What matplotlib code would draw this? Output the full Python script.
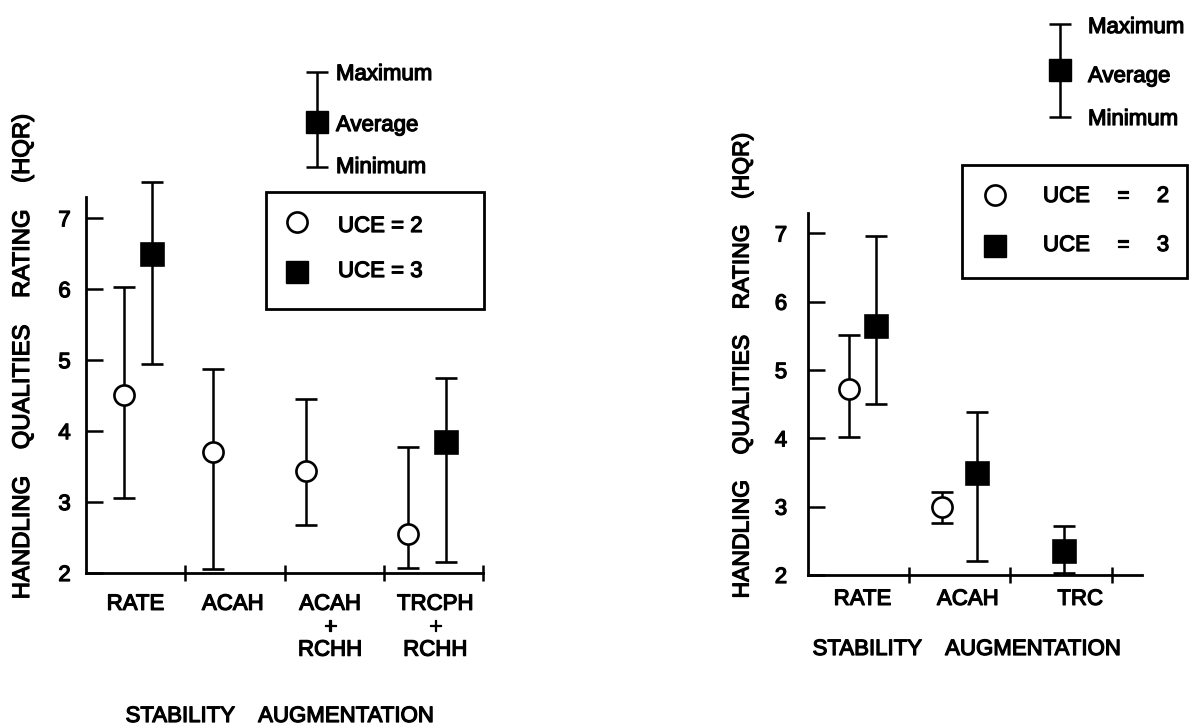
import matplotlib
matplotlib.use('Agg')
import matplotlib.pyplot as plt
import matplotlib.patheffects as pe
from matplotlib.patches import Rectangle

plt.rcParams['font.family'] = ['Liberation Sans', 'DejaVu Sans']
plt.rcParams['font.weight'] = 'normal'
STROKE = [pe.withStroke(linewidth=0.9, foreground='black')]

# ---------------- data ----------------
y_ticks = [2, 3, 4, 5, 6, 7]

left_categories = ["RATE", "ACAH", "ACAH\n+\nRCHH", "TRCPH\n+\nRCHH"]
left_uce2_avg = [4.51, 3.70, 3.44, 2.55]
left_uce2_max = [6.03, 4.87, 4.45, 3.77]
left_uce2_min = [3.06, 2.06, 2.68, 2.07]
left_uce3_avg = [6.49, 3.85]
left_uce3_max = [7.51, 4.75]
left_uce3_min = [4.94, 2.15]

right_categories = ["RATE", "ACAH", "TRC"]
right_uce2_avg = [4.73, 2.99]
right_uce2_max = [5.51, 3.21]
right_uce2_min = [4.02, 2.76]
right_uce3_avg = [5.65, 3.49, 2.35]
right_uce3_max = [6.96, 4.38, 2.72]
right_uce3_min = [4.51, 2.20, 2.03]

# ---------------- layout (positions) ----------------
left_uce2_pos = [0.38, 1.28, 2.22, 3.24]
left_uce3_pos = [0.665, 3.63]
left_label_pos = [0.50, 1.48, 2.46, 3.52]
left_bounds = [1, 2, 3, 4]

right_uce2_pos = [0.405, 1.32]
right_uce3_pos = [0.67, 1.67, 2.53]
right_label_pos = [0.54, 1.58, 2.69]
right_bounds = [1, 2, 3]

W, H = 1198, 725
FS = 16
LW = 1.8
fig = plt.figure(figsize=(W / 100, H / 100), dpi=100)


def rect(left, top, right, bottom):
    return [left / W, 1 - bottom / H, (right - left) / W, (bottom - top) / H]


def setup(ax, xmax, bounds, label_pos, labels, ypad, xpad):
    ax.set_xlim(0, xmax)
    ax.set_ylim(2, 7.3)
    ax.patch.set_alpha(0)
    ax.spines['top'].set_visible(False)
    ax.spines['right'].set_visible(False)
    for s in ('left', 'bottom'):
        ax.spines[s].set_linewidth(2.0)
    ax.set_yticks(y_ticks)
    ax.set_yticklabels([str(t) for t in y_ticks])
    ax.tick_params(axis='y', direction='in', length=12, width=LW,
                   pad=ypad, labelsize=FS)
    ax.set_xticks(bounds)
    ax.set_xticklabels([''] * len(bounds))
    ax.tick_params(axis='x', which='major', direction='inout', length=12,
                   width=LW)
    ax.set_xticks(label_pos, minor=True)
    ax.set_xticklabels(labels, minor=True)
    ax.tick_params(axis='x', which='minor', length=0, pad=xpad, labelsize=FS)
    for lab in ax.get_xticklabels(minor=True) + ax.get_yticklabels():
        lab.set_linespacing(1.12)
        lab.set_path_effects(STROKE)


def draw(ax, pos, avg, vmax, vmin, marker, face, ms):
    lo = [a - m for a, m in zip(avg, vmin)]
    hi = [m - a for a, m in zip(avg, vmax)]
    ax.errorbar(pos, avg, yerr=[lo, hi], fmt=marker, mfc=face, mec='black',
                mew=1.9, ms=ms, color='black', ecolor='black', elinewidth=LW,
                capsize=8, capthick=LW, clip_on=False, zorder=3)


# ---------------- left panel ----------------
axL = fig.add_axes(rect(86, 197, 483, 573))
setup(axL, 4.0, left_bounds, left_label_pos, left_categories, 11, 15)
draw(axL, left_uce2_pos, left_uce2_avg, left_uce2_max, left_uce2_min,
     'o', 'white', 14.5)
draw(axL, left_uce3_pos, left_uce3_avg, left_uce3_max, left_uce3_min,
     's', 'black', 15.5)

# ---------------- right panel ----------------
axR = fig.add_axes(rect(808, 213, 1142, 575))
setup(axR, 3.3, right_bounds, right_label_pos, right_categories, 15, 10)
draw(axR, right_uce2_pos, right_uce2_avg, right_uce2_max, right_uce2_min,
     'o', 'white', 14.5)
draw(axR, right_uce3_pos, right_uce3_avg, right_uce3_max, right_uce3_min,
     's', 'black', 16)

# ---------------- overlay (labels, keys, legend boxes) ----------------
ov = fig.add_axes([0, 0, 1, 1])
ov.set_xlim(0, W)
ov.set_ylim(H, 0)
ov.axis('off')
ov.patch.set_alpha(0)


def txt(x, y, s, **kw):
    kw.setdefault('fontsize', FS)
    return ov.text(x, y, s, path_effects=STROKE, **kw)


ylab = "HANDLING    QUALITIES    RATING    (HQR)"
txt(23, 357, ylab, rotation=90, ha='center', va='center', fontsize=17.2)
txt(742, 366, ylab, rotation=90, ha='center', va='center', fontsize=16.5)

txt(280, 722, "STABILITY    AUGMENTATION", ha='center', va='baseline')
txt(967, 655, "STABILITY    AUGMENTATION", ha='center', va='baseline')


def key(x, ymax, yavg, ymin, tx, bases):
    ov.errorbar([x], [yavg], yerr=[[yavg - ymax], [ymin - yavg]], fmt='s',
                ms=16, color='black', elinewidth=LW, capsize=8, capthick=LW)
    for t, b in zip(("Maximum", "Average", "Minimum"), bases):
        txt(tx, b, t, ha='left', va='baseline')


key(317, 72, 122, 167, 336, (80, 131, 173))
key(1060, 24, 70, 117, 1088, (33, 82, 125))

# left legend box
ov.add_patch(Rectangle((266, 192), 218, 117, fill=False, lw=2.0,
                       edgecolor='black'))
ov.plot([297], [222], 'o', mfc='white', mec='black', mew=1.9, ms=14.5)
ov.plot([297], [272], 's', color='black', ms=16)
txt(338, 232, "UCE = 2", ha='left', va='baseline')
txt(338, 277, "UCE = 3", ha='left', va='baseline')

# right legend box
ov.add_patch(Rectangle((962, 165), 225, 113, fill=False, lw=2.0,
                       edgecolor='black'))
ov.plot([995], [195], 'o', mfc='white', mec='black', mew=1.9, ms=14.5)
ov.plot([995], [246], 's', color='black', ms=16.5)
for b, v in ((202, "2"), (251, "3")):
    txt(1043, b, "UCE", ha='left', va='baseline')
    txt(1123, b, "=", ha='center', va='baseline')
    txt(1163, b, v, ha='center', va='baseline')

fig.savefig('out.png', dpi=100)
